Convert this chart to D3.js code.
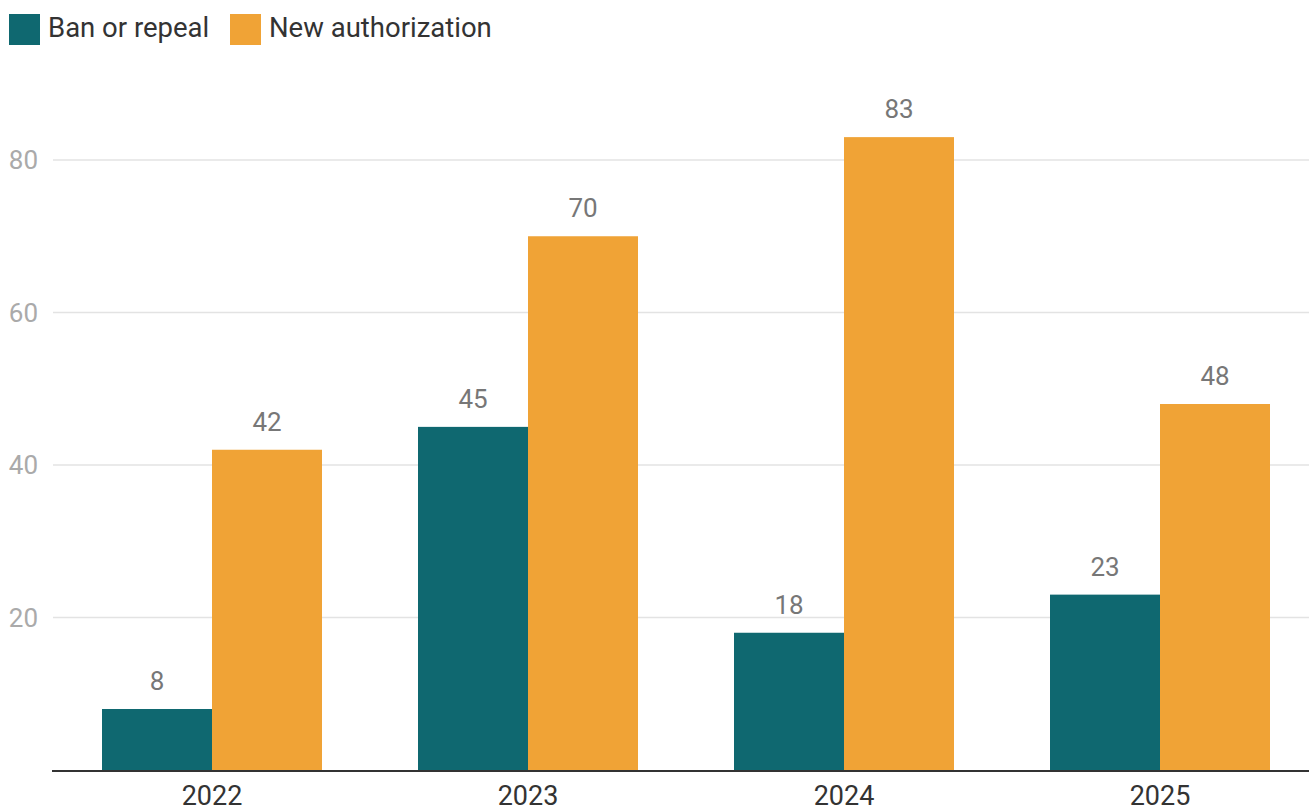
<!DOCTYPE html>
<html><head><meta charset="utf-8">
<script src="https://cdn.jsdelivr.net/npm/d3@7"></script>
<style>body{margin:0;background:#fff}svg{display:block;font-family:Roboto,sans-serif}</style>
</head><body><svg id="c" width="1309" height="809"></svg>
<script>
const years = ["2022","2023","2024","2025"];
const seriesNames = ["Ban or repeal","New authorization"];
const banValues = [8,45,18,23];
const authValues = [42,70,83,48];
const yTicks = [20,40,60,80];
const colors = ["#0f6870","#f0a336"];

const svg = d3.select("#c");
const x = d3.scaleBand().domain(years).range([54,1318]).paddingInner(0.3038).paddingOuter(0.1519);
const xs = d3.scaleBand().domain([0,1]).range([0,x.bandwidth()]);
const y = d3.scaleLinear().domain([0,80]).range([770,160]);

// grid
svg.append("g").selectAll("line").data(yTicks).join("line")
  .attr("x1",53).attr("x2",1309).attr("y1",d=>y(d)).attr("y2",d=>y(d))
  .attr("stroke","#e3e3e3").attr("stroke-width",1.5);
svg.append("g").selectAll("text").data(yTicks).join("text")
  .attr("x",38).attr("y",d=>y(d)).attr("dy","0.35em").attr("text-anchor","end")
  .attr("fill","#aaaaaa").attr("font-size",26).text(d=>d);

const data = years.map((yr,i)=>({yr, vals:[banValues[i],authValues[i]]}));
const g = svg.append("g").selectAll("g").data(data).join("g")
  .attr("transform",d=>`translate(${x(d.yr)},0)`);
g.selectAll("rect").data(d=>d.vals).join("rect")
  .attr("x",(d,i)=>xs(i)).attr("width",xs.bandwidth())
  .attr("y",d=>y(d)).attr("height",d=>y(0)-y(d)).attr("fill",(d,i)=>colors[i]);
g.selectAll("text").data(d=>d.vals).join("text")
  .attr("x",(d,i)=>xs(i)+xs.bandwidth()/2).attr("y",d=>y(d)-19)
  .attr("text-anchor","middle").attr("fill","#777").attr("font-size",26).text(d=>d);

// axis
const xAxis = svg.append("g").attr("transform","translate(0,771)")
  .call(d3.axisBottom(x).tickSize(0).tickPadding(0));
xAxis.select(".domain").remove();
svg.append("line").attr("x1",52).attr("x2",1309).attr("y1",771).attr("y2",771)
  .attr("stroke","#333").attr("stroke-width",2);
xAxis.selectAll("text").attr("y",34).attr("dy",0).attr("font-size",27)
  .attr("fill","#333").attr("font-family","Roboto,sans-serif");

// legend
const legX = [9,230];
const lg = svg.append("g").selectAll("g").data(seriesNames).join("g")
  .attr("transform",(d,i)=>`translate(${legX[i]},14)`);
lg.append("rect").attr("width",31).attr("height",31).attr("fill",(d,i)=>colors[i]);
lg.append("text").attr("x",39).attr("y",23).attr("font-size",27.5).attr("fill","#333").text(d=>d);
</script></body></html>
